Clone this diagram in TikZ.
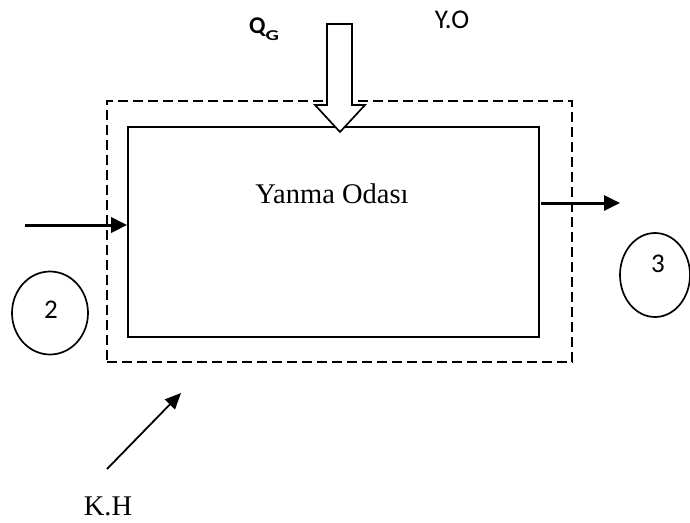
\documentclass[tikz,border=0pt]{standalone}
\usepackage{fontspec}
\setmainfont{Liberation Serif}
\newfontfamily\carlfont{Carlito}
\usetikzlibrary{arrows.meta,shapes.geometric}
\begin{document}
\begin{tikzpicture}[x=1pt,y=-1pt,
  solidbox/.style={draw,line width=1.7pt,minimum width=411pt,minimum height=210pt,inner sep=0pt},
  dashbox/.style={draw,line width=1.7pt,dash pattern=on 10pt off 5pt,minimum width=465pt,minimum height=261pt,inner sep=0pt},
  thickarrow/.style={line width=3pt,-{Triangle[length=16pt,width=15pt]}},
  thinarrow/.style={line width=1.8pt,-{Triangle[length=16pt,width=14pt]}},
  state/.style={draw,ellipse,line width=1.7pt,inner sep=0pt},
  serifbig/.style={font=\fontsize{28.5}{30}\selectfont},
  sansbig/.style={font=\carlfont\fontsize{27}{30}\selectfont}]
\useasboundingbox (0,0) rectangle (690,522);
\node[dashbox] (dbox) at (339.5,231.5) {};
\node[solidbox] (box) at (333.5,232) {};
\node[serifbig,anchor=base] (label) at (332,203) {Yanma Odası};
% hollow arrow Q_G
\draw[line width=1.7pt,fill=white]
  (327,24) -- (352,24) -- (352,105) -- (365,105) -- (340,132) -- (315,105) -- (327,105) -- cycle;
\node[font=\carlfont\bfseries\fontsize{24}{26}\selectfont,anchor=base west,inner sep=0pt] (qg) at (249,33) {Q\raisebox{-7pt}{\fontsize{15}{15}\selectfont\scalebox{1.4}[1]{G}}};
\node[sansbig,anchor=base,inner sep=0pt] (yo) at (452,28) {Y.O};
% input arrow
\coordinate (inA) at (25,225);
\draw[thickarrow] (inA) -- (inA -| box.west);
% output arrow
\coordinate (outA) at (541,203);
\coordinate (outB) at (620,203);
\draw[thickarrow] (outA) -- (outB);
% state circles
\node[state,minimum width=76pt,minimum height=83pt] (s2) at (50,313) {};
\node[sansbig,anchor=base,inner sep=0pt] at (51,318) {2};
\node[state,minimum width=70pt,minimum height=84pt] (s3) at (655,275) {};
\node[sansbig,anchor=base,inner sep=0pt] at (658,272) {3};
% K.H arrow
\node[serifbig,anchor=base,inner sep=0pt] (kh) at (108,515) {K.H};
\coordinate (khA) at (107,469);
\coordinate (khB) at (181,393);
\draw[thinarrow] (khA) -- (khB);
\end{tikzpicture}
\end{document}
